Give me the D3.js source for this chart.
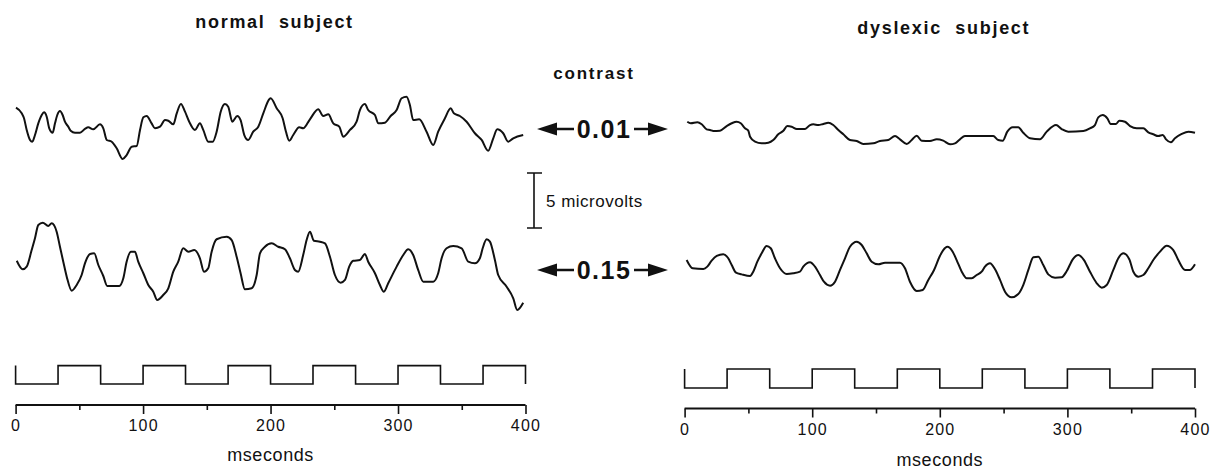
<!DOCTYPE html>
<html>
<head>
<meta charset="utf-8">
<script src="https://cdn.jsdelivr.net/npm/d3@7"></script>
<style>
  body { margin: 0; background: #fff; }
  svg { display: block; font-family: "Liberation Sans", Arial, Helvetica, sans-serif; }
</style>
</head>
<body>
<svg id="chart" width="1216" height="471"></svg>
<script>
// DATA  (time in ms, amplitude in microvolts)

const normalLow = [
  [0.3, 1.57], [4.8, 1.06], [6.6, 0.61], [8.7, -0.45], [11.3, -1.36], [13.1, -1.52],
  [15.2, -0.91], [17.8, 0.15], [20.5, 0.91], [22.3, 1.15], [24.4, 0.75], [26.4, -0.3],
  [29.1, -0.7], [30.9, 0.15], [32.7, 0.91], [34.8, 1.27], [36.9, 0.91], [38.7, 0.3],
  [41.3, -0.15], [43.2, -0.52], [46.6, -0.7], [50.5, -0.7], [54.4, -0.36], [57.0, -0.21],
  [60.9, -0.39], [66.2, 0.06], [68.8, -0.3], [71.5, -1.36], [75.4, -1.52], [79.3, -2.12],
  [84.0, -3.09], [87.1, -2.73], [91.1, -1.97], [95.0, -1.91], [97.6, -0.45], [100.2, 0.7],
  [102.8, 0.82], [106.7, 0.15], [109.3, -0.3], [113.3, -0.15], [117.2, 0.45], [119.8, 0.39],
  [123.7, 0.06], [126.4, 1.06], [129.7, 1.91], [132.9, 1.21], [136.2, 0.3], [140.7, -0.45],
  [144.6, 0.15], [147.2, -0.45], [151.1, -1.52], [154.6, -1.52], [157.7, -0.61], [160.9, 1.21],
  [164.2, 1.91], [166.8, 1.66], [170.0, 0.3], [173.9, 0.82], [176.5, 0.45], [179.4, -0.91],
  [182.5, -1.36], [186.4, -0.61], [190.4, -0.15], [194.3, 1.06], [199.0, 2.34], [200.1, 2.43],
  [204.8, 1.52], [209.5, 0.61], [212.1, -0.61], [214.7, -1.43], [217.8, -0.91], [222.5, -0.21],
  [225.6, -0.3], [230.9, 0.52], [237.4, 1.43], [241.3, 0.82], [245.3, 0.97], [249.2, 0.15],
  [253.9, -0.15], [257.0, -1.06], [262.3, -0.45], [267.5, 0.3], [270.1, 1.36], [274.0, 1.91],
  [276.6, 1.36], [281.9, 0.91], [284.5, 0.15], [289.7, 0.21], [294.2, 0.82], [298.9, 1.36],
  [302.8, 2.43], [306.7, 2.57], [309.3, 1.82], [311.9, 0.45], [316.6, 0.52], [322.4, -0.61],
  [327.6, -1.82], [331.5, -0.61], [336.8, 0.61], [341.3, 1.52], [343.8, 1.06], [348.5, 0.82],
  [353.8, 0.3], [360.3, -0.75], [365.6, -1.36], [370.7, -2.34], [374.7, -1.21], [377.8, -0.39],
  [382.5, -0.75], [386.4, -1.52], [390.4, -1.21], [398.2, -0.91]
];

const normalHigh = [
  [0.9, 0.39], [5.6, -0.39], [8.7, -0.15], [12.6, 1.36], [15.2, 2.43], [17.8, 3.64],
  [21.3, 3.85], [25.6, 3.55], [28.3, 3.79], [32.2, 3.03], [34.8, 1.66], [37.4, 0.3],
  [40.1, -1.06], [44.0, -2.34], [47.9, -1.82], [51.8, -0.91], [54.4, 0.15], [58.4, 1.0],
  [61.7, 1.06], [64.9, 0], [68.8, -1.0], [71.9, -1.91], [81.3, -1.91], [84.5, -1.21],
  [87.1, 0.3], [90.5, 1.21], [93.6, 1.21], [96.2, 0.3], [100.2, -0.75], [104.1, -1.82],
  [108.0, -2.43], [111.1, -3.18], [115.8, -2.73], [119.8, -2.12], [123.7, -0.61], [127.6, 0.3],
  [131.5, 1.52], [135.5, 1.21], [140.2, 1.36], [144.6, 0.61], [147.8, -0.61], [151.1, -0.3],
  [153.8, 1.21], [157.7, 2.34], [165.6, 2.57], [169.5, 2.27], [173.4, 0.75], [176.5, -0.75],
  [179.9, -2.21], [185.2, -2.12], [189.1, -0.91], [191.7, 1.06], [195.6, 1.66], [200.9, 1.97],
  [206.0, 1.66], [211.3, 1.43], [215.2, 0.61], [219.1, -0.45], [221.7, -0.61], [225.6, 0.91],
  [228.3, 2.27], [230.9, 3.03], [234.0, 2.21], [238.7, 2.12], [242.7, 1.97], [246.6, 0.75],
  [250.5, -0.91], [255.0, -1.61], [258.4, -1.36], [261.7, -0.15], [264.9, 0.39], [270.1, 0.45],
  [274.0, 1.0], [276.6, 0.3], [281.9, -0.75], [285.8, -1.82], [288.9, -2.43], [292.3, -1.66],
  [298.9, -0.15], [304.1, 0.91], [308.0, 1.43], [311.9, 0.91], [315.8, -0.45], [319.8, -1.52],
  [327.6, -1.52], [331.5, -0.75], [334.2, 0.61], [338.1, 1.52], [343.3, 1.73], [349.9, 1.52],
  [355.1, 0.3], [360.3, 0.15], [364.2, 0.61], [366.4, 1.52], [369.5, 2.34], [372.1, 2.12],
  [376.0, 0.45], [378.6, -0.91], [385.2, -1.97], [390.4, -3.03], [393.5, -4.09], [398.2, -3.43]
];

const dyslexicLow = [
  [2.1, 0.75], [4.8, 0.61], [10.0, 0.7], [13.4, 0.52], [17.3, 0.06], [19.9, 0],
  [22.5, -0.09], [27.7, -0.06], [33.0, 0.36], [36.9, 0.61], [40.8, 0.75], [44.0, 0.61],
  [47.3, 0.15], [49.9, -0.06], [51.3, -0.61], [55.2, -1.06], [60.4, -1.21], [65.6, -1.15],
  [69.5, -0.91], [73.4, -0.39], [77.4, -0.06], [80.5, 0.36], [83.9, 0.3], [87.9, 0.09],
  [94.4, 0.09], [98.3, 0.45], [100.9, 0.52], [104.8, 0.45], [108.7, 0.55], [112.6, 0.66],
  [116.5, 0.45], [120.5, 0], [124.4, -0.39], [129.6, -0.91], [134.9, -1.0], [140.0, -1.27],
  [147.9, -1.21], [153.1, -1.0], [159.6, -0.91], [164.9, -0.55], [168.8, -0.85], [174.1, -1.27],
  [178.0, -0.91], [181.9, -0.52], [185.8, -0.97], [192.3, -1.0], [197.6, -0.85], [202.7, -0.97],
  [208.0, -1.3], [211.9, -1.21], [215.8, -0.85], [219.7, -0.55], [241.9, -0.55], [245.8, -0.91],
  [249.3, -0.97], [252.9, -0.15], [257.1, 0.25], [261.5, 0.25], [265.4, -0.25], [270.7, -0.75],
  [278.5, -0.85], [283.8, -0.15], [291.1, 0.45], [295.5, 0.09], [300.7, -0.15], [312.5, -0.09],
  [317.7, 0.15], [321.6, 0.45], [324.2, 1.15], [327.7, 1.36], [331.3, 1.06], [333.9, 0.55],
  [338.1, 0.55], [340.7, 0.85], [345.1, 0.75], [349.1, 0.36], [354.3, 0.15], [359.5, 0.15],
  [363.4, -0.21], [367.3, -0.39], [371.2, -0.55], [374.7, -0.45], [377.3, -0.85], [381.0, -1.12],
  [384.3, -0.75], [389.6, -0.36], [394.8, -0.15], [400.0, -0.25]
];

const dyslexicHigh = [
  [1.6, 0.45], [6.3, -0.3], [14.7, -0.36], [17.8, -0.15], [21.2, 0.39], [25.2, 0.82],
  [30.3, 0.97], [34.2, 0.61], [36.9, 0], [40.3, -0.7], [44.7, -0.85], [51.3, -1.0],
  [53.8, -0.61], [57.0, 0.3], [60.4, 1.06], [64.3, 1.73], [67.5, 1.52], [70.8, 0.61],
  [74.8, -0.3], [80.0, -0.82], [85.2, -0.75], [90.4, -0.61], [93.0, -0.15], [98.3, 0.25],
  [102.2, -0.15], [106.1, -0.91], [109.2, -1.52], [114.0, -1.88], [117.9, -1.52], [121.8, -0.45],
  [125.7, 0.61], [129.6, 1.66], [134.9, 2.12], [138.8, 1.82], [142.7, 1.06], [146.6, 0.3],
  [151.8, 0.06], [157.1, 0.21], [168.8, 0.21], [172.7, -0.3], [176.6, -1.52], [181.9, -2.36],
  [186.6, -2.27], [191.0, -1.36], [195.5, -0.45], [199.7, 0.73], [202.7, 1.36], [205.9, 1.66],
  [210.1, 1.21], [213.2, 0.45], [217.2, -0.61], [221.1, -1.21], [225.0, -1.21], [228.9, -0.91],
  [232.8, -0.61], [235.4, -0.15], [239.3, 0.15], [243.3, -0.39], [247.2, -1.36], [251.1, -2.43],
  [256.3, -2.94], [261.5, -2.64], [265.4, -1.82], [269.4, -0.45], [273.3, 0.7], [277.2, 0.75],
  [281.1, 0], [285.0, -0.85], [290.3, -1.15], [295.5, -1.12], [299.5, -0.55], [304.2, 0.52],
  [308.5, 0.91], [313.0, 0.45], [317.7, -0.61], [323.0, -1.66], [326.9, -2.06], [330.8, -1.82],
  [336.0, -0.45], [339.9, 0.61], [343.8, 1.06], [348.5, 0.52], [351.7, -0.61], [355.6, -1.06],
  [359.5, -0.91], [363.4, -0.3], [367.3, 0.45], [372.6, 1.21], [377.8, 1.75], [383.0, 1.36],
  [386.9, 0.45], [392.2, -0.45], [396.1, -0.45], [400.0, 0.06]
];

// stimulus: 1 = bright phase, 0 = dark phase, switching every 33.3 ms
const stimulus = [
  [0, 1], [0, 0], [33.3, 1], [66.7, 0], [100, 1], [133.3, 0], [166.7, 1],
  [200, 0], [233.3, 1], [266.7, 0], [300, 1], [333.3, 0], [366.7, 1], [400, 0]
];

const timeTicks = [0, 50, 100, 150, 200, 250, 300, 350, 400];
const contrastLabels = ["0.01", "0.15"];
const panelTitles = ["normal subject", "dyslexic subject"];
const scaleBarMicrovolts = 5;

// CANVAS SETUP

const svg = d3.select("#chart");
const pxPerMicrovolt = 11;

const panels = [
  {
    title: panelTitles[0], low: normalLow, high: normalHigh,
    x0: 15.6, x1: 525.5, lowBase: 125, highBase: 265,
    stimHigh: 365.6, stimLow: 384, axisY: 405, titleY: 28, unitY: 461
  },
  {
    title: panelTitles[1], low: dyslexicLow, high: dyslexicHigh,
    x0: 684.6, x1: 1195, lowBase: 130, highBase: 265,
    stimHigh: 369, stimLow: 388, axisY: 408.5, titleY: 34, unitY: 466
  }
];

// RENDER PANELS

panels.forEach((p) => {
  const g = svg.append("g");

  const xScale = d3.scaleLinear().domain([0, 400]).range([p.x0, p.x1]);

  const yLow = d3.scaleLinear().domain([0, 1])
    .range([p.lowBase, p.lowBase - pxPerMicrovolt]);
  const yHigh = d3.scaleLinear().domain([0, 1])
    .range([p.highBase, p.highBase - pxPerMicrovolt]);
  const yStim = d3.scaleLinear().domain([0, 1]).range([p.stimLow, p.stimHigh]);

  const trace = (yScale) => d3.line()
    .x((d) => xScale(d[0]))
    .y((d) => yScale(d[1]))
    .curve(d3.curveMonotoneX);

  g.append("path")
    .datum(p.low)
    .attr("fill", "none")
    .attr("stroke", "#111")
    .attr("stroke-width", 2)
    .attr("stroke-linejoin", "round")
    .attr("d", trace(yLow));

  g.append("path")
    .datum(p.high)
    .attr("fill", "none")
    .attr("stroke", "#111")
    .attr("stroke-width", 2)
    .attr("stroke-linejoin", "round")
    .attr("d", trace(yHigh));

  const stimLine = d3.line()
    .x((d) => xScale(d[0]))
    .y((d) => yStim(d[1]))
    .curve(d3.curveStepAfter);

  g.append("path")
    .datum(stimulus)
    .attr("fill", "none")
    .attr("stroke", "#111")
    .attr("stroke-width", 1.6)
    .attr("d", stimLine);

  // time axis
  const axis = d3.axisBottom(xScale)
    .tickValues(timeTicks)
    .tickSize(9)
    .tickPadding(6)
    .tickFormat((d) => (d % 100 === 0 ? d : ""));

  const gx = g.append("g")
    .attr("transform", `translate(0,${p.axisY})`)
    .call(axis);

  gx.select(".domain")
    .attr("d", `M${p.x0},0H${p.x1}`)
    .attr("stroke", "#111")
    .attr("stroke-width", 2);

  gx.selectAll(".tick line")
    .attr("stroke", "#111")
    .attr("stroke-width", 1.6)
    .attr("y2", (d) => (d % 100 === 0 ? 9 : 5));

  gx.selectAll(".tick text")
    .attr("fill", "#111")
    .style("font-size", "16px")
    .style("letter-spacing", "1.2px");

  g.append("text")
    .attr("x", (p.x0 + p.x1) / 2)
    .attr("y", p.unitY)
    .attr("text-anchor", "middle")
    .attr("fill", "#111")
    .style("font-size", "18px")
    .style("letter-spacing", "0.6px")
    .text("mseconds");

  g.append("text")
    .attr("x", (p.x0 + p.x1) / 2 + 4)
    .attr("y", p.titleY)
    .attr("text-anchor", "middle")
    .attr("fill", "#111")
    .style("font-size", "18px")
    .style("font-weight", "bold")
    .style("letter-spacing", "1.7px")
    .style("white-space", "pre")
    .text(p.title.replace(" ", "  "));
});

// CENTRE LABELS

const mid = svg.append("g");

mid.append("text")
  .attr("x", 594)
  .attr("y", 79)
  .attr("text-anchor", "middle")
  .attr("fill", "#111")
  .style("font-size", "17px")
  .style("font-weight", "bold")
  .style("letter-spacing", "1.8px")
  .text("contrast");

const contrastRows = [129, 270];

contrastLabels.forEach((label, i) => {
  const cy = contrastRows[i];
  const row = mid.append("g");

  row.append("text")
    .attr("x", 604)
    .attr("y", cy)
    .attr("dy", "0.36em")
    .attr("text-anchor", "middle")
    .attr("fill", "#111")
    .style("font-size", "25px")
    .style("font-weight", "bold")
    .style("letter-spacing", "1.5px")
    .text(label);

  // arrow shafts
  row.append("path")
    .attr("d", `M550,${cy}H574M634,${cy}H656`)
    .attr("stroke", "#111")
    .attr("stroke-width", 2.4);

  // arrow heads
  row.append("path")
    .attr("d", `M537,${cy}L557,${cy - 6.5}L557,${cy + 6.5}Z M668,${cy}L648,${cy - 6.5}L648,${cy + 6.5}Z`)
    .attr("fill", "#111");
});

// scale bar
const yBar = d3.scaleLinear().domain([0, scaleBarMicrovolts])
  .range([228, 228 - scaleBarMicrovolts * pxPerMicrovolt]);

mid.append("path")
  .attr("d", `M534,${yBar(0)}V${yBar(scaleBarMicrovolts)}M527,${yBar(0)}H542M527,${yBar(scaleBarMicrovolts)}H542`)
  .attr("fill", "none")
  .attr("stroke", "#111")
  .attr("stroke-width", 1.6);

mid.append("text")
  .attr("x", 546)
  .attr("y", (yBar(0) + yBar(scaleBarMicrovolts)) / 2)
  .attr("dy", "0.36em")
  .attr("fill", "#111")
  .style("font-size", "17px")
  .style("letter-spacing", "0.5px")
  .text(`${scaleBarMicrovolts} microvolts`);
</script>
</body>
</html>
